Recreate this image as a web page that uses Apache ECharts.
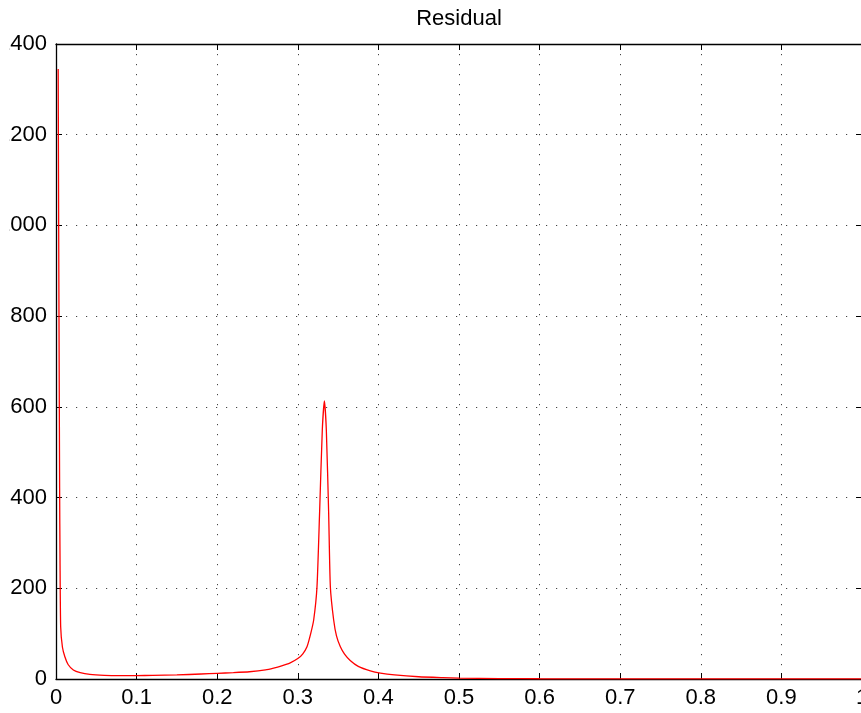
<!DOCTYPE html>
<html>
<head>
<meta charset="utf-8">
<script src="https://cdn.jsdelivr.net/npm/echarts@6/dist/echarts.min.js"></script>
<style>
html,body{margin:0;padding:0;overflow:hidden;background:#fff;width:861px;height:713px;}
#wrap{position:absolute;left:9px;top:0;width:852px;height:713px;overflow:hidden;}
#chart{position:absolute;left:-19px;top:0;width:895px;height:713px;}
</style>
</head>
<body>
<div id="wrap"><div id="chart"></div></div>
<script>
const titleText = 'Residual';
const xTicks = [0, 0.1, 0.2, 0.3, 0.4, 0.5, 0.6, 0.7, 0.8, 0.9, 1];
const yTicks = [0, 200, 400, 600, 800, 1000, 1200, 1400];
const freq = [0.0027, 0.0035, 0.0045, 0.005, 0.0058, 0.008, 0.011, 0.015, 0.0215, 0.03, 0.042, 0.06, 0.08, 0.1, 0.12, 0.15, 0.18, 0.2, 0.22, 0.24, 0.26, 0.27, 0.28, 0.29, 0.3, 0.306, 0.3114, 0.316, 0.3197, 0.3238, 0.327, 0.3304, 0.333, 0.3354, 0.3383, 0.3404, 0.3445, 0.348, 0.3528, 0.358, 0.365, 0.375, 0.39, 0.4025, 0.42, 0.45, 0.48, 0.5, 0.55, 0.6, 0.7, 0.8, 0.9, 1.0];
const residual = [1345, 900, 420, 262, 115, 70, 49, 32, 20, 14, 10, 8, 7.5, 7.5, 8, 9, 11, 12.5, 14, 16, 20, 24, 29, 35, 45, 55, 71, 100, 130, 203, 365, 549, 613, 549, 365, 203, 130, 95, 71, 55, 41, 28, 18, 13, 9, 5, 3, 2, 1, 0.5, 0.3, 0.2, 0.1, 0.1];

const chart = echarts.init(document.getElementById('chart'));
const font = '"Liberation Sans", Arial, Helvetica, sans-serif';
const gridDash = {color: '#444', width: 1, type: [1.2, 8.8]};
const axisCommon = {
  axisLine: {show: true, onZero: false, lineStyle: {color: '#000', width: 1.3}},
  axisTick: {show: true, inside: true, length: 6, lineStyle: {color: '#000', width: 1}}
};
chart.setOption({
  animation: false,
  title: {text: titleText, left: 464, top: 3, textAlign: 'center',
    textStyle: {fontFamily: font, fontSize: 22, fontWeight: 'normal', color: '#000'}},
  grid: {left: 66, right: 23, top: 44, bottom: 34, containLabel: false},
  xAxis: [
    Object.assign({type: 'value', min: 0, max: 1, interval: 0.1, position: 'bottom',
      axisLabel: {fontFamily: font, fontSize: 22, color: '#000', margin: 8,
        formatter: v => String(Math.round(v * 10) / 10)},
      splitLine: {show: true, lineStyle: gridDash}}, axisCommon),
    Object.assign({type: 'value', min: 0, max: 1, interval: 0.1, position: 'top',
      axisLabel: {show: false}, splitLine: {show: false}}, axisCommon)
  ],
  yAxis: [
    Object.assign({type: 'value', min: 0, max: 1400, interval: 200, position: 'left',
      axisLabel: {fontFamily: font, fontSize: 22, color: '#000', margin: 9,
        formatter: v => String(v)},
      splitLine: {show: true, lineStyle: gridDash}}, axisCommon),
    Object.assign({type: 'value', min: 0, max: 1400, interval: 200, position: 'right',
      axisLabel: {show: false}, splitLine: {show: false}}, axisCommon)
  ],
  series: [{
    type: 'line',
    data: freq.map((f, i) => [f, residual[i]]),
    showSymbol: false,
    smooth: 0.2,
    lineStyle: {color: '#ff0000', width: 1.3},
    itemStyle: {color: '#ff0000'},
    clip: true
  }]
});
</script>
</body>
</html>
